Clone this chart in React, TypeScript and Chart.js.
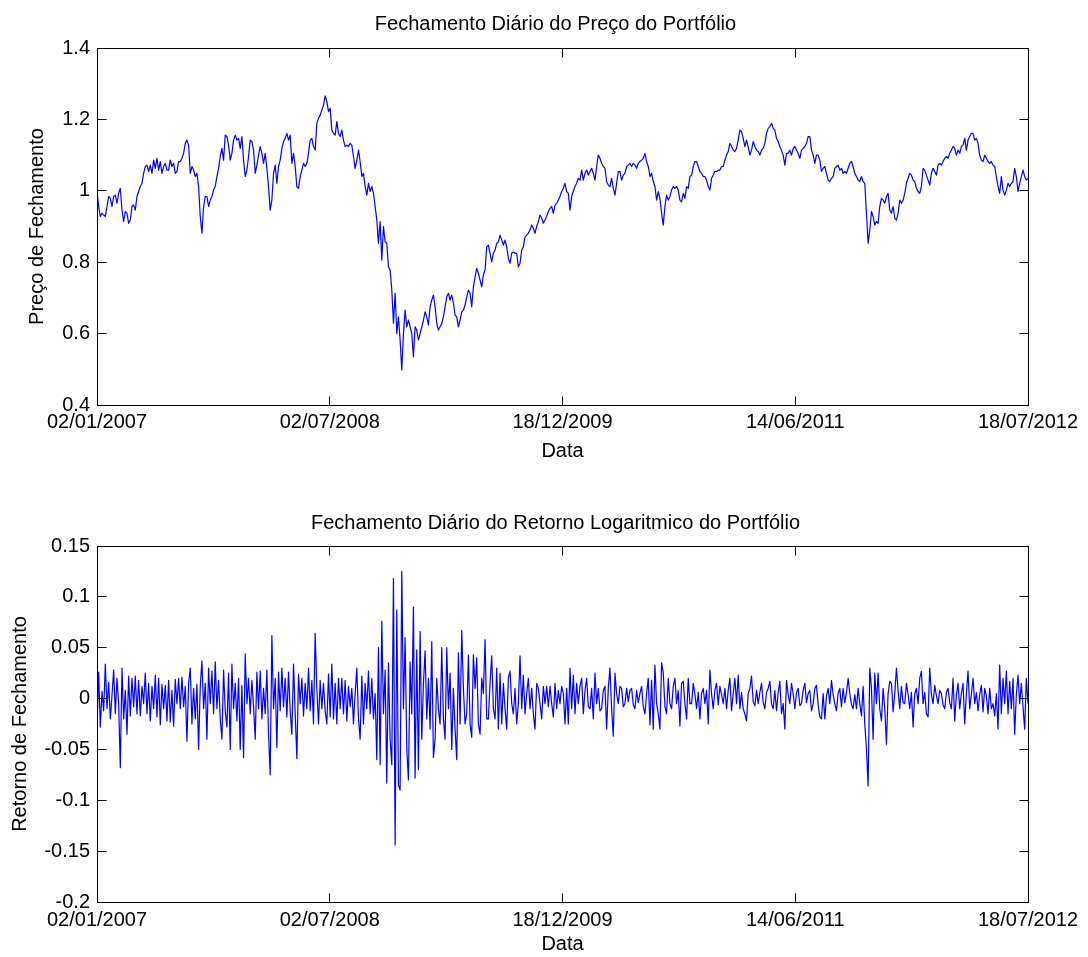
import { useEffect, useRef } from "react";
import { Chart, registerables } from "chart.js";

Chart.register(...registerables);

// Tick dates on the x axis (evenly spaced over the sample)
const DATE_LABELS = ["02/01/2007", "02/07/2008", "18/12/2009", "14/06/2011", "18/07/2012"];
const PRICE_TICKS = [0.4, 0.6, 0.8, 1, 1.2, 1.4];
const RETURN_TICKS = [-0.2, -0.15, -0.1, -0.05, 0, 0.05, 0.1, 0.15];

// Portfolio closing price, one block per interval between tick dates
const PRICE_P1 = [
  0.998, 0.956, 0.928, 0.937, 0.932, 0.928, 0.956, 0.984, 0.979, 0.956,
  0.984, 0.988, 0.965, 0.993, 1.007, 0.946, 0.914, 0.942, 0.937, 0.909,
  0.918, 0.956, 0.960, 0.946, 0.984, 0.998, 1.012, 1.021, 1.049, 1.068,
  1.072, 1.054, 1.072, 1.049, 1.086, 1.063, 1.091, 1.058, 1.082, 1.049,
  1.068, 1.077, 1.058, 1.058, 1.086, 1.068, 1.077, 1.049, 1.054, 1.082,
  1.082, 1.091, 1.105, 1.133, 1.142, 1.128, 1.049, 1.068, 1.058, 1.040,
  1.049, 1.012, 0.928, 0.881, 0.956, 0.984, 0.984, 0.956, 0.974, 0.984,
  1.002, 1.012, 1.040, 1.063, 1.096, 1.119, 1.086, 1.156, 1.152, 1.128,
  1.086, 1.105, 1.142, 1.156, 1.142, 1.147, 1.119, 1.152, 1.086, 1.040,
  1.058, 1.096, 1.142, 1.138, 1.114, 1.049, 1.072, 1.100, 1.124, 1.105,
  1.077, 1.105, 1.063, 1.012, 0.946, 0.974, 1.049, 1.072, 1.021, 1.068,
  1.086, 1.119, 1.138, 1.147, 1.161, 1.142, 1.156, 1.077, 1.105, 1.068,
  1.012, 1.007, 1.040, 1.058, 1.077, 1.068, 1.077, 1.105, 1.142, 1.147,
  1.124, 1.114, 1.189, 1.203, 1.212, 1.226, 1.240, 1.266, 1.250, 1.222,
  1.231,
];
const PRICE_P2 = [
  1.170, 1.161, 1.156, 1.194, 1.161, 1.152, 1.170, 1.142, 1.124, 1.128,
  1.124, 1.133, 1.128, 1.096, 1.063, 1.086, 1.114, 1.082, 1.040, 1.049,
  1.012, 0.988, 1.021, 0.998, 1.012, 0.993, 0.956, 0.918, 0.853, 0.914,
  0.806, 0.900, 0.857, 0.853, 0.787, 0.778, 0.722, 0.629, 0.713, 0.600,
  0.647, 0.582, 0.498, 0.600, 0.666, 0.619, 0.638, 0.619, 0.600, 0.535,
  0.619, 0.610, 0.582, 0.600, 0.619, 0.638, 0.661, 0.647, 0.624, 0.675,
  0.694, 0.708, 0.675, 0.629, 0.610, 0.619, 0.629, 0.647, 0.675, 0.703,
  0.713, 0.694, 0.708, 0.685, 0.652, 0.647, 0.619, 0.638, 0.661, 0.666,
  0.680, 0.703, 0.722, 0.713, 0.675, 0.731, 0.759, 0.783, 0.769, 0.750,
  0.731, 0.764, 0.778, 0.843, 0.848, 0.825, 0.801, 0.825, 0.834, 0.853,
  0.857, 0.876, 0.862, 0.848, 0.862, 0.843, 0.811, 0.797, 0.825, 0.829,
  0.825, 0.825, 0.787, 0.797, 0.834, 0.843, 0.871, 0.876, 0.881, 0.890,
  0.904, 0.895, 0.881, 0.900, 0.914, 0.932, 0.923, 0.909, 0.918, 0.928,
  0.942, 0.951, 0.956, 0.937, 0.960, 0.965, 0.974, 0.984, 0.998, 1.007,
  1.021, 0.998, 0.993, 0.946,
];
const PRICE_P3 = [
  0.984, 0.998, 1.012, 1.021, 1.035, 1.030, 1.058, 1.030, 1.049, 1.058,
  1.044, 1.054, 1.063, 1.049, 1.030, 1.068, 1.100, 1.091, 1.077, 1.068,
  1.063, 1.026, 1.016, 1.012, 1.035, 1.007, 0.988, 1.021, 1.054, 1.054,
  1.030, 1.044, 1.049, 1.068, 1.072, 1.077, 1.068, 1.077, 1.072, 1.063,
  1.077, 1.082, 1.086, 1.091, 1.105, 1.082, 1.068, 1.040, 1.049, 1.026,
  1.012, 0.974, 0.998, 0.979, 0.937, 0.904, 0.956, 0.988, 0.974, 0.984,
  1.002, 1.012, 1.007, 1.012, 1.002, 0.974, 0.969, 0.993, 0.979, 1.012,
  1.007, 1.040, 1.044, 1.068, 1.082, 1.082, 1.068, 1.054, 1.049, 1.040,
  1.040, 1.030, 1.012, 1.002, 1.035, 1.044, 1.054, 1.054, 1.058, 1.058,
  1.068, 1.068, 1.086, 1.100, 1.110, 1.133, 1.124, 1.114, 1.110, 1.119,
  1.142, 1.170, 1.166, 1.147, 1.124, 1.142, 1.124, 1.100, 1.114, 1.138,
  1.124, 1.114, 1.110, 1.100, 1.114, 1.119, 1.133, 1.161, 1.175, 1.180,
  1.189, 1.175, 1.170, 1.147, 1.138, 1.124, 1.114, 1.100, 1.072, 1.105,
  1.105, 1.114, 1.100, 1.119, 1.124, 1.114, 1.105, 1.091, 1.114, 1.119,
  1.124, 1.133, 1.152, 1.152, 1.114, 1.100, 1.077,
];
const PRICE_P4 = [
  1.100, 1.100, 1.086, 1.054, 1.063, 1.068, 1.049, 1.030, 1.026, 1.035,
  1.040, 1.063, 1.068, 1.072, 1.058, 1.063, 1.049, 1.054, 1.049, 1.063,
  1.077, 1.082, 1.068, 1.049, 1.040, 1.030, 1.026, 1.040, 1.026, 1.021,
  0.937, 0.853, 0.890, 0.942, 0.928, 0.904, 0.914, 0.909, 0.956, 0.979,
  0.974, 0.965, 0.984, 0.993, 0.946, 0.937, 0.956, 0.923, 0.918, 0.937,
  0.974, 0.965, 0.974, 0.993, 1.021, 1.035, 1.049, 1.044, 1.030, 1.026,
  1.007, 0.998, 0.993, 1.012, 1.063, 1.058, 1.044, 1.030, 1.016, 1.049,
  1.063, 1.054, 1.044, 1.072, 1.077, 1.072, 1.082, 1.091, 1.096, 1.091,
  1.105, 1.114, 1.124, 1.119, 1.100, 1.114, 1.105, 1.124, 1.128, 1.147,
  1.114, 1.142, 1.152, 1.161, 1.161, 1.142, 1.147, 1.133, 1.100, 1.086,
  1.082, 1.100, 1.091, 1.082, 1.077, 1.082, 1.072, 1.068, 1.040, 1.012,
  0.993, 1.040, 1.002, 0.988, 1.002, 1.021, 1.012, 1.021, 1.026, 1.063,
  1.040, 0.998, 1.021, 1.040, 1.058, 1.040, 1.030, 1.035,
];

// Daily log return of the portfolio, same blocks
const RETURN_P1 = [
  -0.030, 0.026, -0.028, 0.007, -0.012, 0.034, -0.010, 0.016, -0.020, 0.003,
  0.028, -0.015, 0.020, -0.005, -0.068, 0.030, -0.020, 0.008, -0.035, 0.022,
  -0.017, 0.020, -0.008, 0.022, -0.015, 0.018, -0.017, 0.012, -0.005, 0.025,
  -0.015, 0.015, -0.022, 0.012, -0.010, 0.023, -0.018, 0.020, -0.026, 0.014,
  -0.010, 0.013, -0.022, 0.018, -0.023, 0.008, -0.027, 0.019, -0.005, 0.020,
  -0.010, 0.021, -0.008, 0.012, -0.042, 0.015, 0.030, -0.025, 0.010, -0.020,
  0.014, -0.050, 0.012, 0.037, -0.010, 0.015, -0.040, 0.030, -0.005, 0.027,
  -0.015, 0.036, -0.010, 0.018, -0.020, -0.040, 0.028, -0.012, -0.028, 0.025,
  -0.050, 0.034, -0.010, 0.015, -0.022, 0.020, -0.050, 0.013, -0.058, 0.044,
  -0.005, 0.020, -0.015, 0.018, -0.008, -0.040, 0.026, -0.010, 0.027, -0.020,
  0.010, -0.015, 0.028, -0.035, -0.075, 0.062, -0.010, 0.020, -0.048, 0.026,
  -0.012, 0.030, -0.008, 0.020, -0.018, 0.026, -0.012, -0.035, 0.034, -0.015,
  -0.059, 0.024, -0.005, 0.020, -0.017, 0.015, -0.010, 0.030, -0.012, 0.018,
  -0.025, 0.064, 0.010, -0.025, 0.018, -0.010, 0.015, -0.012, -0.025, 0.024,
  -0.018,
];
const RETURN_P2 = [
  0.034, -0.020, 0.015, -0.025, 0.020, -0.010, 0.020, -0.015, 0.018, -0.022,
  0.012, -0.008, 0.010, -0.025, 0.005, 0.030, -0.020, -0.040, 0.022, -0.025,
  0.015, -0.010, 0.027, -0.015, 0.020, -0.020, 0.005, -0.060, 0.050, -0.065,
  0.076, -0.015, 0.028, -0.083, 0.035, -0.040, -0.065, 0.118, -0.144, 0.087,
  -0.085, -0.090, 0.125, -0.010, 0.060, -0.050, -0.080, 0.036, -0.015, 0.090,
  -0.078, 0.048, -0.070, 0.066, -0.040, 0.015, 0.047, -0.020, 0.020, -0.030,
  0.056, -0.058, -0.040, 0.020, -0.010, -0.025, 0.050, -0.020, -0.040, 0.050,
  -0.010, 0.025, -0.050, 0.010, -0.030, -0.060, 0.045, -0.025, 0.067, 0.010,
  -0.025, -0.015, 0.043, -0.025, -0.038, 0.043, 0.010, 0.040, -0.025, -0.035,
  0.020, 0.005, 0.058, -0.020, -0.020, 0.015, 0.042, -0.010, -0.020, 0.030,
  -0.030, 0.025, -0.025, 0.015, -0.010, -0.030, 0.020, 0.027, -0.005, -0.015,
  0.010, -0.025, -0.005, 0.042, -0.010, 0.023, -0.015, 0.005, 0.020, -0.010,
  0.010, -0.015, -0.030, 0.015, 0.010, -0.005, -0.020, 0.012, -0.005, 0.012,
  -0.008, 0.012, -0.005, -0.018, 0.015, -0.010, 0.008, -0.005, 0.012, 0.005,
  -0.025, 0.010, -0.025, 0.030,
];
const RETURN_P3 = [
  -0.010, 0.023, -0.015, 0.015, -0.005, 0.012, 0.020, -0.015, 0.008, 0.020,
  -0.008, -0.010, 0.010, -0.020, 0.025, -0.005, 0.010, -0.012, -0.010, 0.008,
  0.012, -0.030, 0.010, 0.030, -0.010, -0.037, 0.025, 0.005, -0.005, 0.012,
  0.010, -0.008, -0.005, 0.010, -0.003, 0.008, 0.010, -0.006, -0.010, 0.008,
  -0.004, 0.005, 0.012, -0.008, -0.015, 0.005, 0.020, -0.026, 0.018, -0.030,
  0.033, -0.005, -0.015, -0.030, 0.035, 0.025, -0.008, -0.015, 0.020, -0.005,
  -0.010, 0.012, 0.020, -0.005, 0.008, -0.027, 0.015, 0.017, -0.005, -0.020,
  0.020, -0.005, -0.005, 0.015, 0.004, -0.010, 0.006, -0.020, 0.005, 0.010,
  -0.005, 0.008, -0.025, 0.028, 0.005, -0.010, 0.008, 0.015, -0.006, 0.012,
  0.004, -0.005, 0.010, -0.010, 0.008, 0.020, -0.012, 0.005, 0.020, -0.005,
  0.023, -0.010, 0.006, -0.010, -0.015, -0.022, 0.005, 0.010, 0.022, -0.003,
  -0.007, 0.008, -0.005, 0.006, 0.015, -0.004, -0.010, 0.006, 0.010, 0.017,
  -0.005, -0.010, 0.008, -0.012, 0.006, 0.017, -0.015, -0.005, -0.030, 0.018,
  0.004, -0.005, 0.015, 0.005, -0.010, 0.006, 0.010, -0.007, -0.005, 0.008,
  0.015, -0.004, 0.005, 0.008, -0.012, -0.005, 0.010,
];
const RETURN_P4 = [
  0.013, -0.006, -0.018, -0.020, 0.005, -0.020, 0.003, 0.010, -0.005, 0.018,
  0.004, -0.005, -0.012, 0.005, 0.010, -0.008, 0.010, -0.004, 0.006, 0.020,
  0.005, -0.006, -0.010, 0.004, -0.010, 0.010, -0.005, -0.017, 0.012, -0.025,
  -0.050, -0.086, 0.030, 0.010, -0.040, 0.025, -0.005, 0.025, -0.010, -0.022,
  0.010, -0.010, -0.045, 0.005, 0.017, 0.015, -0.013, 0.005, 0.030, 0.008,
  -0.010, 0.012, -0.004, -0.005, 0.015, 0.004, -0.010, 0.006, -0.028, 0.005,
  0.010, -0.005, 0.020, 0.027, -0.005, 0.006, -0.015, -0.018, 0.030, 0.004,
  -0.005, 0.013, 0.003, -0.005, 0.008, 0.005, -0.006, -0.010, 0.006, 0.010,
  -0.004, -0.010, 0.020, -0.022, 0.004, 0.015, -0.010, 0.005, 0.015, -0.025,
  0.005, 0.027, -0.010, 0.004, 0.020, -0.005, 0.006, -0.012, 0.004, 0.013,
  -0.013, 0.010, 0.003, -0.015, 0.010, -0.010, -0.005, -0.017, 0.005, -0.030,
  0.033, -0.015, 0.020, -0.005, 0.027, -0.015, 0.017, -0.010, 0.020, -0.035,
  0.004, 0.023, -0.005, 0.015, -0.008, -0.030, 0.020, -0.005,
];

const PRICE = [...PRICE_P1, ...PRICE_P2, ...PRICE_P3, ...PRICE_P4];
const RETURNS = [...RETURN_P1, ...RETURN_P2, ...RETURN_P3, ...RETURN_P4];

const FONT_FAMILY = "'Liberation Sans', Arial, Helvetica, sans-serif";
const FONT = { family: FONT_FAMILY, size: 20, weight: "normal" as const, lineHeight: 1.2 };
const TICK_LEN = 9;

// Box around the axes with inward tick marks on all four sides, plus the axes title
const boxedAxes = {
  id: "boxedAxes",
  afterDatasetsDraw(chart: any, _args: any, opts: any) {
    const { ctx, chartArea: a, scales } = chart;
    const L = Math.floor(a.left) + 0.5;
    const R = Math.floor(a.right) + 0.5;
    const T = Math.floor(a.top) + 0.5;
    const B = Math.floor(a.bottom) + 0.5;
    ctx.save();
    ctx.strokeStyle = "#000";
    ctx.lineWidth = 1;
    ctx.beginPath();
    for (const t of scales.x.ticks) {
      const px = Math.floor(scales.x.getPixelForValue(t.value)) + 0.5;
      ctx.moveTo(px, B);
      ctx.lineTo(px, B - TICK_LEN);
      ctx.moveTo(px, T);
      ctx.lineTo(px, T + TICK_LEN);
    }
    for (const t of scales.y.ticks) {
      const py = Math.floor(scales.y.getPixelForValue(t.value)) + 0.5;
      ctx.moveTo(L, py);
      ctx.lineTo(L + TICK_LEN, py);
      ctx.moveTo(R, py);
      ctx.lineTo(R - TICK_LEN, py);
    }
    ctx.stroke();
    ctx.strokeRect(L, T, R - L, B - T);

    if (opts && opts.text) {
      ctx.fillStyle = "#000";
      ctx.font = `normal ${FONT.size}px ${FONT_FAMILY}`;
      ctx.textAlign = "center";
      ctx.textBaseline = "middle";
      ctx.fillText(opts.text, (a.left + a.right) / 2 + opts.dx, opts.y);
    }
    ctx.restore();
  },
};

type PlotProps = {
  values: number[];
  yTicks: number[];
  title: string;
  yTitle: string;
  height: number;
  areaTop: number;
  titleY: number;
  xAxisHeight: number;
  xTickPad: number;
  xTitlePadBottom: number;
  yTitlePadTop: number;
};

function formatTick(v: number) {
  return String(parseFloat(Number(v).toFixed(2)));
}

function SubPlot(p: PlotProps) {
  const ref = useRef<HTMLCanvasElement | null>(null);
  useEffect(() => {
    if (!ref.current) return;
    const n = p.values.length;
    const last = n - 1;
    const chart = new Chart(ref.current, {
      type: "line",
      data: {
        datasets: [
          {
            data: p.values.map((y, i) => ({ x: i, y })),
            borderColor: "#0000ff",
            borderWidth: 1.2,
            borderJoinStyle: "round",
            pointRadius: 0,
            tension: 0,
            fill: false,
          },
        ],
      },
      options: {
        animation: false,
        responsive: false,
        events: [],
        layout: { padding: { left: 0, right: 60, top: p.areaTop, bottom: 0 } },
        plugins: {
          legend: { display: false },
          tooltip: { enabled: false },
          title: { display: false },
          boxedAxes: { text: p.title, dx: -7, y: p.titleY },
        },
        scales: {
          x: {
            type: "linear",
            min: 0,
            max: last,
            grid: { display: false, drawTicks: false },
            border: { display: false },
            afterBuildTicks: (s: any) => {
              s.ticks = DATE_LABELS.map((_, k) => ({ value: (k * last) / (DATE_LABELS.length - 1) }));
            },
            ticks: {
              autoSkip: false,
              maxRotation: 0,
              minRotation: 0,
              padding: p.xTickPad,
              color: "#000",
              font: FONT,
              callback: (_v: any, i: number) => DATE_LABELS[i],
            },
            title: {
              display: true,
              text: "Data",
              color: "#000",
              font: FONT,
              padding: { top: 0, bottom: p.xTitlePadBottom },
            },
            afterFit: (s: any) => {
              s.height = p.xAxisHeight;
            },
          },
          y: {
            type: "linear",
            min: p.yTicks[0],
            max: p.yTicks[p.yTicks.length - 1],
            grid: { display: false, drawTicks: false },
            border: { display: false },
            afterBuildTicks: (s: any) => {
              s.ticks = p.yTicks.map((v) => ({ value: v }));
            },
            ticks: {
              padding: 7,
              color: "#000",
              font: FONT,
              callback: (v: any) => formatTick(v),
            },
            title: {
              display: true,
              text: p.yTitle,
              color: "#000",
              font: FONT,
              padding: { top: p.yTitlePadTop, bottom: 0 },
            },
            afterFit: (s: any) => {
              s.width = 97;
            },
          },
        },
      },
      plugins: [boxedAxes],
    } as any);
    return () => chart.destroy();
  }, []);
  return <canvas ref={ref} width={1088} height={p.height} style={{ display: "block" }} />;
}

export default function App() {
  return (
    <div style={{ position: "absolute", left: 0, top: 0, width: 1088, height: 957, background: "#fff" }}>
      <SubPlot
        values={PRICE}
        yTicks={PRICE_TICKS}
        title="Fechamento Diário do Preço do Portfólio"
        yTitle="Preço de Fechamento"
        height={478}
        areaTop={48}
        titleY={24}
        xAxisHeight={73}
        xTickPad={5}
        xTitlePadBottom={15}
        yTitlePadTop={25}
      />
      <SubPlot
        values={RETURNS}
        yTicks={RETURN_TICKS}
        title="Fechamento Diário do Retorno Logaritmico do Portfólio"
        yTitle="Retorno de Fechamento"
        height={479}
        areaTop={68}
        titleY={45}
        xAxisHeight={55}
        xTickPad={6}
        xTitlePadBottom={1}
        yTitlePadTop={8}
      />
    </div>
  );
}
